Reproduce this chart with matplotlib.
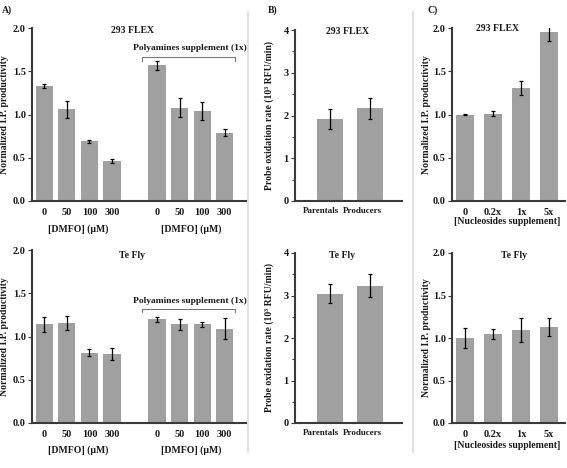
import matplotlib
matplotlib.use("Agg")
import matplotlib.pyplot as plt
from matplotlib.lines import Line2D

W, H = 567, 468
plt.rcParams['font.family'] = ['Liberation Serif', 'DejaVu Serif']
plt.rcParams['font.weight'] = 'bold'
plt.rcParams['axes.labelweight'] = 'bold'

# ---- data ----
dmfo_labels = ["0", "50", "100", "300"]
flex_dmfo = [1.33, 1.06, 0.69, 0.46]
flex_dmfo_err = [0.02, 0.10, 0.02, 0.02]
flex_poly = [1.57, 1.08, 1.04, 0.79]
flex_poly_err = [0.05, 0.11, 0.10, 0.04]
tefly_dmfo = [1.14, 1.16, 0.81, 0.80]
tefly_dmfo_err = [0.09, 0.08, 0.04, 0.07]
tefly_poly = [1.20, 1.14, 1.14, 1.09]
tefly_poly_err = [0.03, 0.06, 0.03, 0.12]

b_labels = ["Parentals", "Producers"]
flex_probe = [1.92, 2.17]
flex_probe_err = [0.23, 0.25]
tefly_probe = [3.04, 3.23]
tefly_probe_err = [0.22, 0.27]

nuc_labels = ["0", "0.2x", "1x", "5x"]
flex_nuc = [1.00, 1.01, 1.31, 1.95]
flex_nuc_err = [0.005, 0.03, 0.08, 0.10]
tefly_nuc = [1.00, 1.05, 1.09, 1.13]
tefly_nuc_err = [0.12, 0.06, 0.14, 0.11]

BAR = '#a0a0a0'
SPINE = '#3a3a3a'
TXT = '#1a1a1a'

fig = plt.figure(figsize=(W/100, H/100), dpi=100)

def rect(x0, x1, ytop, ybot):
    return [x0/W, 1-ybot/H, (x1-x0)/W, (ybot-ytop)/H]

def style(ax, ymax, major, minor=None):
    for s in ['top', 'right']:
        ax.spines[s].set_visible(False)
    for s in ['left', 'bottom']:
        ax.spines[s].set_color(SPINE)
        ax.spines[s].set_linewidth(1.5)
    ax.set_ylim(0, ymax)
    ax.set_yticks(major)
    if minor is not None:
        ax.set_yticks(minor, minor=True)
    ax.tick_params(axis='y', which='major', length=3, width=0.8, color=SPINE,
                   labelsize=7.5, pad=1.5, labelcolor=TXT)
    ax.tick_params(axis='y', which='minor', length=2, width=0.8, color=SPINE)
    ax.tick_params(axis='x', length=0, labelsize=7.5, pad=5, labelcolor=TXT)

def bars(ax, pos, vals, errs, width):
    ax.bar(pos, vals, width=width, color=BAR, edgecolor='none', zorder=2)
    ax.errorbar(pos, vals, yerr=errs, fmt='none', ecolor='black',
                elinewidth=0.9, capsize=1.5, capthick=0.9, zorder=3)

posA1 = [0, 1, 2, 3]
posA2 = [5, 6, 7, 8]

def panelA(ytop, ybot, v1, e1, v2, e2, title, title_y, br_y, br_txt_y, glab_y):
    ax = fig.add_axes(rect(32, 246, ytop, ybot))
    style(ax, 2.0, [0.0, 0.5, 1.0, 1.5, 2.0])
    ax.set_yticklabels(["0.0", "0.5", "1.0", "1.5", "2.0"])
    bars(ax, posA1, v1, e1, 0.76)
    bars(ax, posA2, v2, e2, 0.76)
    ax.set_xlim(-0.55, 8.95)
    ax.set_xticks(posA1 + posA2)
    ax.set_xticklabels(dmfo_labels + dmfo_labels)
    ax.set_ylabel("Normalized I.P. productivity", fontsize=7, color=TXT)
    ax.yaxis.set_label_coords(-0.108, 0.5)
    ax.text(3.9, title_y, title, ha='center', va='center', fontsize=7, color=TXT)
    # bracket
    ax.plot([4.35, 4.35, 8.45, 8.45], [br_y - 0.04, br_y, br_y, br_y - 0.04],
            color='#777777', lw=0.8, clip_on=False)
    ax.text(6.45, br_txt_y, "Polyamines supplement (1x)", ha='center', va='center',
            fontsize=6.8, color=TXT)
    for cx in (1.5, 6.5):
        ax.text(cx, glab_y, "[DMFO] (\u00b5M)", ha='center', va='center',
                fontsize=7, color=TXT, transform=ax.get_xaxis_transform())
    return ax

h_top = 201 - 28
panelA(28, 201, flex_dmfo, flex_dmfo_err, flex_poly, flex_poly_err,
       "293 FLEX", 1.97, 1.66, 1.77, -(229 - 201) / h_top)
h_bot = 423 - 250
panelA(250, 423, tefly_dmfo, tefly_dmfo_err, tefly_poly, tefly_poly_err,
       "Te Fly", 1.94, 1.32, 1.41, -(450 - 423) / h_bot)

def panelB(ytop, ybot, vals, errs, title, tx, ty, lab_y):
    ax = fig.add_axes(rect(295, 402, ytop, ybot))
    style(ax, 4.0, [0, 1, 2, 3, 4], [0.5, 1.5, 2.5, 3.5])
    bars(ax, [0, 1], vals, errs, 0.63)
    ax.set_xlim(-0.875, 1.8)
    ax.set_xticks([0, 1])
    ax.set_xticklabels([])
    for p, lab in zip([-0.22, 0.8], b_labels):
        ax.text(p, lab_y, lab, ha='center', va='center', fontsize=6.5, color=TXT,
                transform=ax.get_xaxis_transform())
    ax.set_ylabel("Probe oxidation rate (10\u00b3 RFU/min)", fontsize=7, color=TXT)
    ax.yaxis.set_label_coords(-0.2, 0.5)
    ax.text(tx, ty, title, ha='center', va='center', fontsize=7, color=TXT)

panelB(30, 201, flex_probe, flex_probe_err, "293 FLEX", 0.43, 3.97, -(211 - 201) / 171)
panelB(253, 423, tefly_probe, tefly_probe_err, "Te Fly", 0.3, 3.95, -(433 - 423) / 170)

def panelC(ytop, ybot, vals, errs, title, tx, ty, lab_y):
    ax = fig.add_axes(rect(452, 565, ytop, ybot))
    style(ax, 2.0, [0.0, 0.5, 1.0, 1.5, 2.0])
    ax.set_yticklabels(["0.0", "0.5", "1.0", "1.5", "2.0"])
    bars(ax, [0, 1, 2, 3], vals, errs, 0.62)
    ax.set_xlim(-0.46, 3.57)
    ax.set_xticks([0, 1, 2, 3])
    ax.set_xticklabels(nuc_labels)
    ax.set_ylabel("Normalized I.P. productivity", fontsize=7, color=TXT)
    ax.yaxis.set_label_coords(-0.19, 0.5)
    ax.text(tx, ty, title, ha='center', va='center', fontsize=7, color=TXT)
    ax.text(1.5, lab_y, "[Nucleosides supplement]", ha='center', va='center',
            fontsize=7, color=TXT, transform=ax.get_xaxis_transform())

panelC(28, 201, flex_nuc, flex_nuc_err, "293 FLEX", 1.18, 1.99, -(222 - 201) / 173)
panelC(253, 423, tefly_nuc, tefly_nuc_err, "Te Fly", 1.75, 1.97, -(446 - 423) / 170)

# separators
for x in (248, 413):
    fig.add_artist(Line2D([x/W, x/W], [1-12/H, 1-452/H], color='#dcdcdc', lw=1.2))

fig.text(2/W, 1-10/H, "A)", fontsize=7, color=TXT, va='center')
fig.text(268/W, 1-10/H, "B)", fontsize=7, color=TXT, va='center')
fig.text(428/W, 1-10/H, "C)", fontsize=7, color=TXT, va='center')

fig.savefig("out.png", dpi=100)
